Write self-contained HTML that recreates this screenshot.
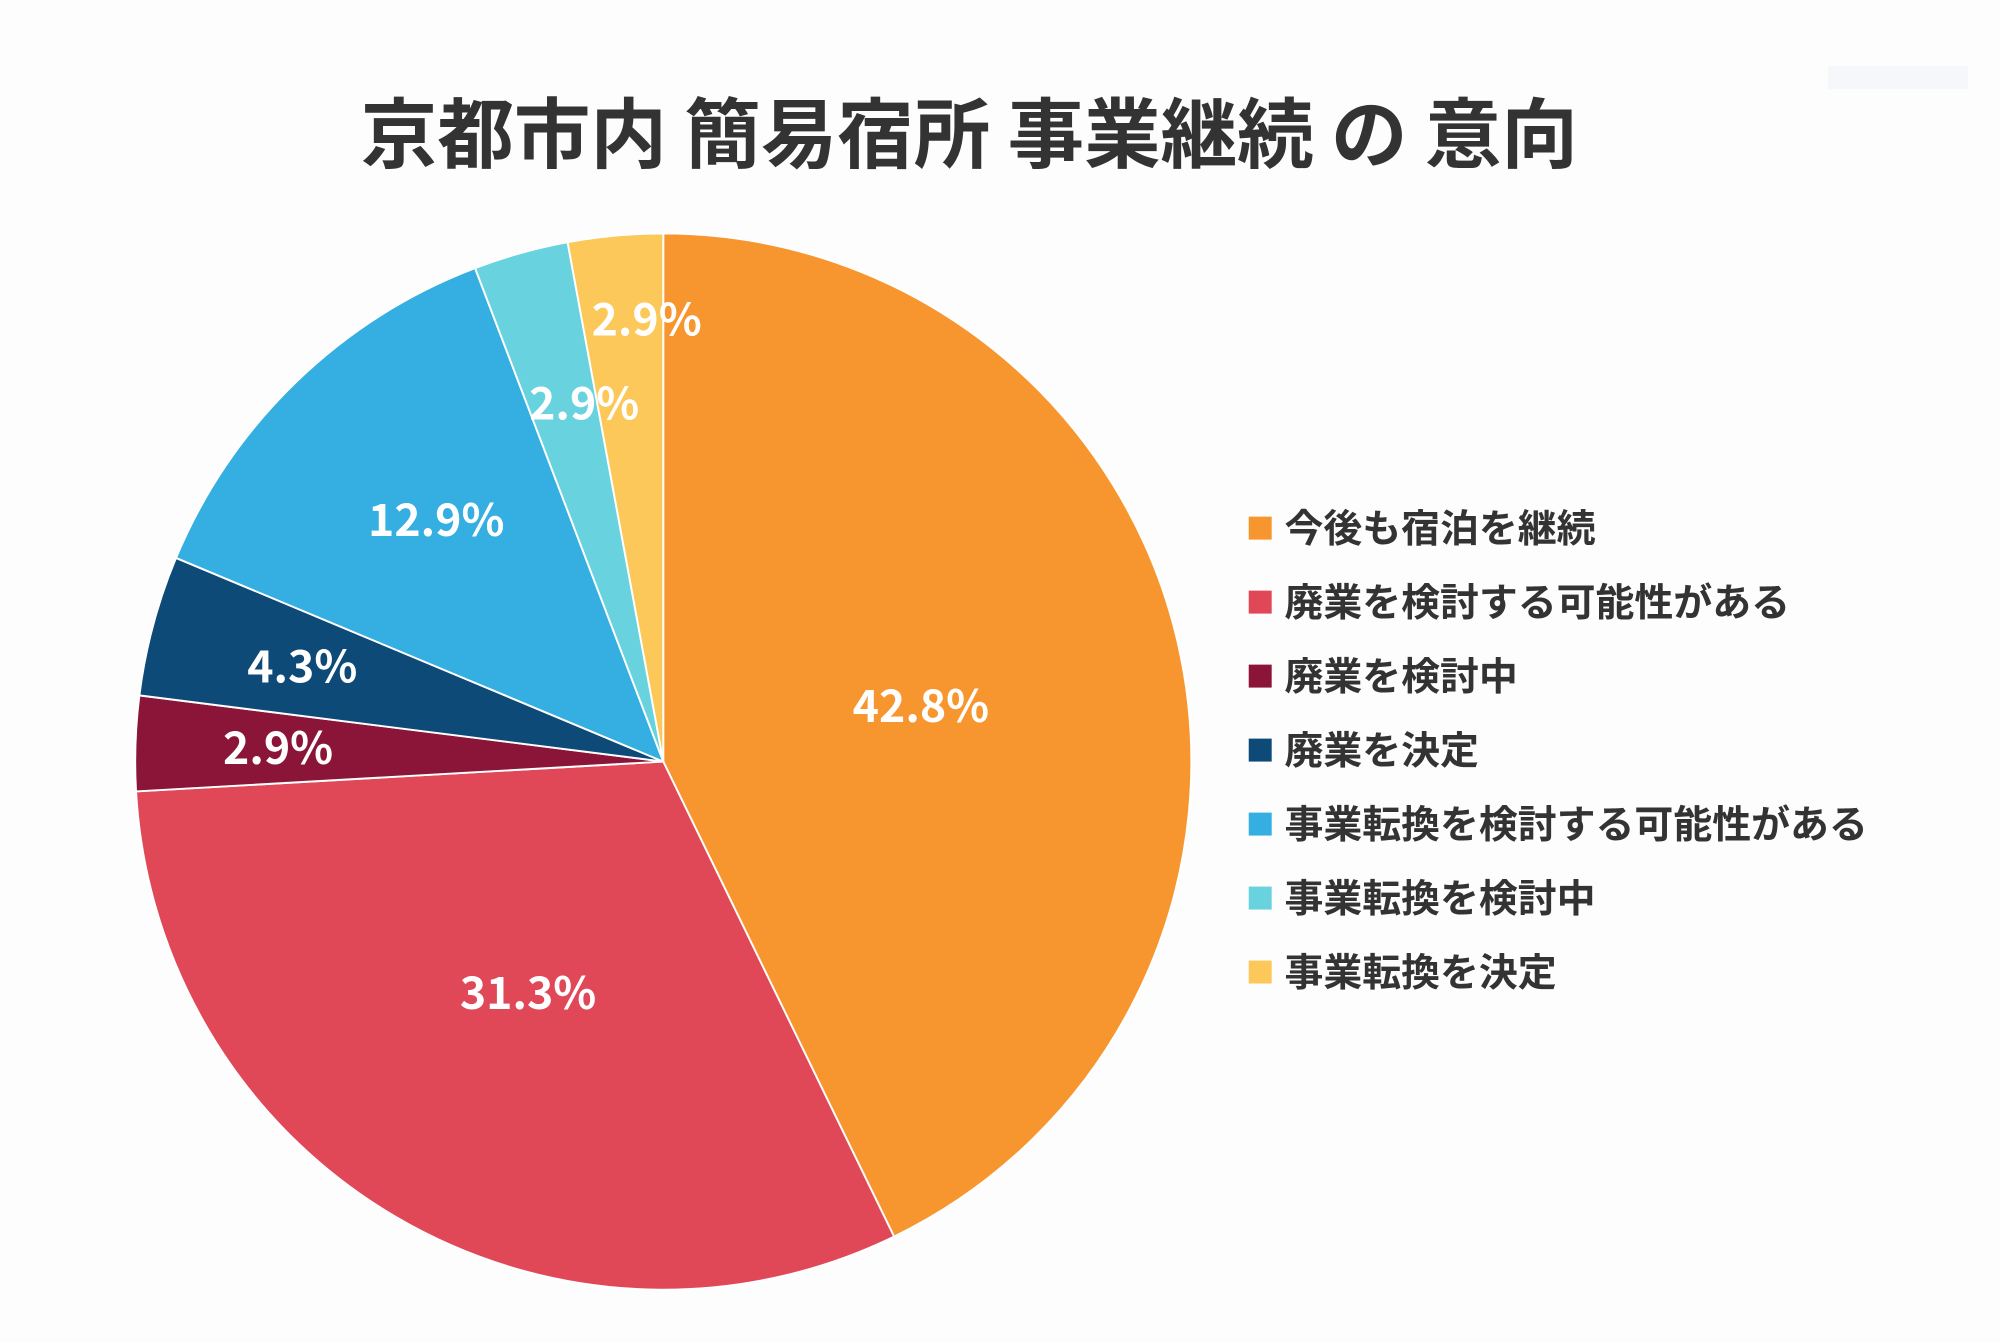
<!DOCTYPE html>
<html><head><meta charset="utf-8">
<style>
html,body{margin:0;padding:0;background:#fdfdfd;}
svg{display:block;}
text{font-family:"Liberation Sans","Noto Sans CJK JP",sans-serif;font-weight:bold;}
.n{font-family:"Noto Sans CJK JP","Liberation Sans",sans-serif;}
</style></head>
<body>
<svg id="s" width="2000" height="1342" viewBox="0 0 1568 1052" preserveAspectRatio="none" xmlns="http://www.w3.org/2000/svg">
<rect width="1568" height="1052" fill="#fdfdfd"/>
<rect x="1433" y="52" width="110" height="18" fill="#f5f7fa"/>
<text class="n" x="760" y="127" font-size="60" fill="#333" text-anchor="middle">京都市内 簡易宿所 事業継続 の 意向</text>
<g id="pie"></g>
<g class="n" font-size="35" fill="#fff" text-anchor="middle">
<text class="n" x="722" y="566">42.8%</text>
<text class="n" x="414" y="791">31.3%</text>
<text class="n" x="218" y="599">2.9%</text>
<text class="n" x="237" y="535">4.3%</text>
<text class="n" x="342" y="420">12.9%</text>
<text class="n" x="458" y="329">2.9%</text>
<text class="n" x="507" y="263">2.9%</text>
</g>
<g font-size="30.5" fill="#333">
<rect x="979" y="405" width="18" height="18" fill="#F7962E"/><text x="1007" y="425">今後も宿泊を継続</text>
<rect x="979" y="463" width="18" height="18" fill="#E04858"/><text x="1007" y="483">廃業を検討する可能性がある</text>
<rect x="979" y="521" width="18" height="18" fill="#8B1538"/><text x="1007" y="541">廃業を検討中</text>
<rect x="979" y="579" width="18" height="18" fill="#0D4A78"/><text x="1007" y="599">廃業を決定</text>
<rect x="979" y="637" width="18" height="18" fill="#35AEE2"/><text x="1007" y="657">事業転換を検討する可能性がある</text>
<rect x="979" y="695" width="18" height="18" fill="#68D3DF"/><text x="1007" y="715">事業転換を検討中</text>
<rect x="979" y="753" width="18" height="18" fill="#FCC85A"/><text x="1007" y="773">事業転換を決定</text>
</g>
</svg>
<script>
var d=[[42.8,"#F7962E"],[31.3,"#E04858"],[2.9,"#8B1538"],[4.3,"#0D4A78"],[12.9,"#35AEE2"],[2.9,"#68D3DF"],[2.9,"#FCC85A"]];
var cx=520,cy=597,r=414,a=0,g=document.getElementById("pie"),h="";
d.forEach(function(e){var b=a+e[0]/100*2*Math.PI;
var x1=cx+r*Math.sin(a),y1=cy-r*Math.cos(a),x2=cx+r*Math.sin(b),y2=cy-r*Math.cos(b);
h+='<path d="M'+cx+' '+cy+' L'+x1+' '+y1+' A'+r+' '+r+' 0 '+((b-a)>Math.PI?1:0)+' 1 '+x2+' '+y2+' Z" fill="'+e[1]+'" stroke="#fff" stroke-width="1.5"/>';a=b;});
g.innerHTML=h;
</script>
</body></html>
